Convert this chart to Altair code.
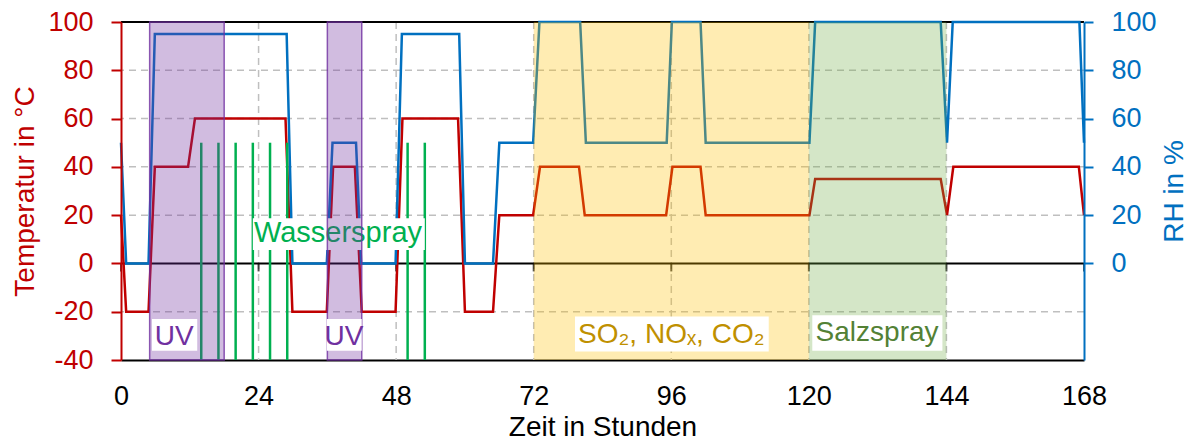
import altair as alt
import pandas as pd

W, H = 963, 338
FONT = "Liberation Sans"
RED = "#C00000"
BLUE = "#0070C0"

# ---- data ----
temp_t = [0, 0.9, 4.8, 5.9, 11.7, 12.9, 28.7, 29.9, 35.9, 37.0, 40.8, 42.0, 47.9, 49.1,
          58.8, 60.0, 64.9, 66.0, 71.9, 73.1, 79.9, 80.9, 95.1, 96.2, 101.1, 102.0,
          120.1, 121.1, 143.0, 144.1, 145.2, 167.1, 168.0]
temp_v = [20, -20, -20, 40, 40, 60, 60, -20, -20, 40, 40, -20, -20, 60,
          60, -20, -20, 20, 20, 40, 40, 20, 20, 40, 40, 20,
          20, 35, 35, 20, 40, 40, 20]

rh_t = [0, 0.9, 4.8, 5.9, 28.9, 29.9, 35.9, 36.9, 41.0, 41.9, 47.9, 49.0, 59.0, 60.0,
        64.9, 66.0, 71.9, 73.0, 80.1, 81.1, 95.2, 96.1, 101.1, 102.0, 120.1, 121.1,
        143.0, 144.1, 145.1, 167.2, 168.0]
rh_v = [50, 0, 0, 95, 95, 0, 0, 50, 50, 0, 0, 95, 95, 0,
        0, 50, 50, 100, 100, 50, 50, 100, 100, 50, 50, 100,
        100, 50, 100, 100, 50]

spray_t = [14, 17, 20, 23, 26, 29, 50, 53]
spray_low = -40
spray_high = 50

uv_start = [5, 36]
uv_end = [18, 42]
zone_start = [72, 120]
zone_end = [120, 144]
zone_color = ["#FFC000", "#70AD47"]

x_ticks = [0, 24, 48, 72, 96, 120, 144, 168]
temp_ticks = [-40, -20, 0, 20, 40, 60, 80, 100]
rh_ticks = [0, 20, 40, 60, 80, 100]
grid_x = [24, 48, 72, 96, 120, 144]
grid_y = [-20, 20, 40, 60, 80]

# annotation labels
lab_text = ["UV", "UV", "SO₂, NOₓ, CO₂", "Salzspray"]
lab_x = [9.3, 38.9, 96.0, 131.9]
lab_y = [-30.5, -30.5, -29.5, -29]
lab_color = ["#7030A0", "#7030A0", "#BF9000", "#538135"]
box_x1 = [5.4, 35.9, 79.2, 120.6]
box_x2 = [13.3, 42.0, 113.0, 143.3]
box_y1 = [-23.0, -23.0, -22.0, -21.5]
box_y2 = [-36.2, -36.2, -36.5, -36.2]

ws_text = "Wasserspray"
ws_x, ws_y = 37.85, 12.8
ws_box = (23.0, 53.0, 18.7, 5.6)

# ---- helpers ----
xs = alt.Scale(domain=[0, 168], nice=False, zero=False)

x_axis = alt.Axis(values=x_ticks, title="Zeit in Stunden", domainColor="black", domainWidth=2,
                  ticks=False, tickSize=0, labelFont=FONT, labelFontSize=27, labelColor="black",
                  labelPadding=23, titleFont=FONT, titleFontSize=28, titleFontWeight="normal",
                  titleColor="black", titlePadding=4, grid=False, labelFlush=False)


def X(field):
    return alt.X(field, scale=xs, axis=x_axis)


def ys():
    return alt.Scale(domain=[-40, 100], nice=False, zero=False)


def Y(field):
    return alt.Y(field, scale=ys(), axis=None)


LABEL_EXPR = "'' + datum.value"

temp_df = pd.DataFrame({"t": temp_t, "v": temp_v})
rh_df = pd.DataFrame({"t": rh_t, "v": rh_v})

vgrid = alt.Chart(pd.DataFrame({"t": grid_x})).mark_rule(
    color="#BFBFBF", strokeDash=[7, 5], strokeWidth=1.5
).encode(x=X("t:Q"))

hgrid = alt.Chart(pd.DataFrame({"v": grid_y})).mark_rule(
    color="#BFBFBF", strokeDash=[7, 5], strokeWidth=1.5
).encode(y=Y("v:Q"))

zero_line = alt.Chart(pd.DataFrame({"v": [0]})).mark_rule(color="black", strokeWidth=2).encode(
    y=Y("v:Q"))

top_line = alt.Chart(pd.DataFrame({"v": [100]})).mark_rule(color="black", strokeWidth=2).encode(
    y=Y("v:Q"))

zero_ticks = alt.Chart(pd.DataFrame({"t": x_ticks, "v": [0] * len(x_ticks)})).mark_tick(
    orient="vertical", color="black", size=8, thickness=2, yOffset=4
).encode(x=X("t:Q"), y=Y("v:Q"))

temp_line = alt.Chart(temp_df).mark_line(color=RED, strokeWidth=2.5).encode(
    x=X("t:Q"),
    y=alt.Y("v:Q", scale=ys(), axis=alt.Axis(
        orient="left", values=temp_ticks, title="Temperatur in °C", grid=False,
        domainColor=RED, domainWidth=2, tickColor=RED, tickWidth=2, tickSize=10,
        labelColor=RED, labelFont=FONT, labelFontSize=27, labelPadding=18,
        labelExpr=LABEL_EXPR,
        titleColor=RED, titleFont=FONT, titleFontSize=28, titleFontWeight="normal",
        titlePadding=8, zindex=1)),
)

rh_line = alt.Chart(rh_df).mark_line(color=BLUE, strokeWidth=2.5).encode(
    x=X("t:Q"),
    y=alt.Y("v:Q", scale=ys(), axis=alt.Axis(
        orient="right", values=rh_ticks, title="RH in %", grid=False,
        domainColor=BLUE, domainWidth=2, tickColor=BLUE, tickWidth=2, tickSize=9,
        labelColor=BLUE, labelFont=FONT, labelFontSize=27, labelPadding=18,
        labelExpr=LABEL_EXPR,
        titleColor=BLUE, titleFont=FONT, titleFontSize=28, titleFontWeight="normal",
        titleAngle=270, titleBaseline="top", titlePadding=4, zindex=1)),
)

spray = alt.Chart(pd.DataFrame({"t": spray_t, "lo": [spray_low] * len(spray_t),
                                "hi": [spray_high] * len(spray_t)})).mark_rule(
    color="#00B050", strokeWidth=2.5
).encode(x=X("t:Q"), y=Y("lo:Q"), y2="hi:Q")

ws_box_c = alt.Chart(pd.DataFrame({"a": [ws_box[0]], "b": [ws_box[1]], "c": [ws_box[2]],
                                   "d": [ws_box[3]]})).mark_rect(color="white").encode(
    x=X("a:Q"), x2="b:Q", y=Y("c:Q"), y2="d:Q")

ws_label = alt.Chart(pd.DataFrame({"x": [ws_x], "y": [ws_y], "s": [ws_text]})).mark_text(
    font=FONT, fontSize=29, color="#00B050", align="center", baseline="middle"
).encode(x=X("x:Q"), y=Y("y:Q"), text="s:N")

uv_bands = alt.Chart(pd.DataFrame({"a": uv_start, "b": uv_end})).mark_rect(
    color="#7030A0", fillOpacity=0.32, stroke="#7030A0", strokeWidth=1.5, strokeOpacity=0.8
).encode(x=X("a:Q"), x2="b:Q", y=alt.value(0), y2=alt.value(H))

zone_bands = alt.Chart(pd.DataFrame({"a": zone_start, "b": zone_end, "c": zone_color})).mark_rect(
    fillOpacity=0.3
).encode(x=X("a:Q"), x2="b:Q", y=alt.value(0), y2=alt.value(H),
         fill=alt.Fill("c:N", scale=None))

boxes = alt.Chart(pd.DataFrame({"a": box_x1, "b": box_x2, "c": box_y1, "d": box_y2})).mark_rect(
    color="white"
).encode(x=X("a:Q"), x2="b:Q", y=Y("c:Q"), y2="d:Q")

labels = alt.Chart(pd.DataFrame({"x": lab_x, "y": lab_y, "s": lab_text, "c": lab_color})).mark_text(
    font=FONT, fontSize=28, align="center", baseline="middle"
).encode(x=X("x:Q"), y=Y("y:Q"), text="s:N", color=alt.Color("c:N", scale=None))

chart = alt.layer(
    vgrid, hgrid, zero_line, top_line, zero_ticks, temp_line, rh_line, spray,
    ws_box_c, ws_label, uv_bands, zone_bands, boxes, labels
).resolve_scale(y="independent").properties(
    width=W, height=H,
    autosize=alt.AutoSizeParams(type="none"),
    padding={"left": 121, "top": 22, "right": 111, "bottom": 81},
).configure_view(stroke=None)

chart.save("out.html", embed_options={"renderer": "svg", "actions": False})
